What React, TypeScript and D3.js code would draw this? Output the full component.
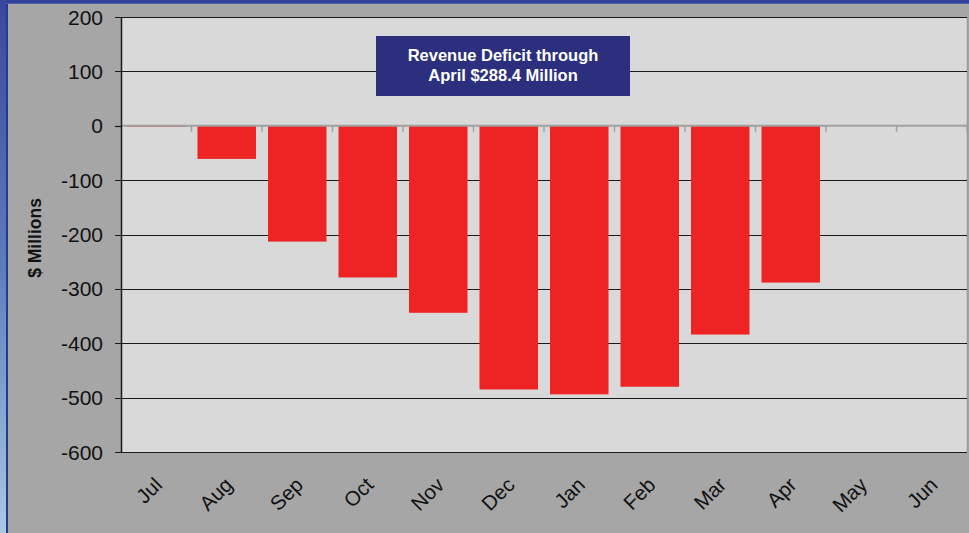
import React from "react";
import * as d3 from "d3";

const months = ["Jul", "Aug", "Sep", "Oct", "Nov", "Dec", "Jan", "Feb", "Mar", "Apr", "May", "Jun"];
const deficit = [-1, -61, -213, -279, -344, -485, -494, -480, -384, -288.4, null, null];
const yTicks = [200, 100, 0, -100, -200, -300, -400, -500, -600];
const annotationLines = ["Revenue Deficit through", "April $288.4 Million"];

const W = 969;
const H = 533;
const left = 121;
const right = 967;
const top = 17;
const bottom = 452;

export default function App() {
  const x = d3.scaleBand<string>().domain(months).range([left, right]).paddingInner(0.17).paddingOuter(0.085);
  const xc = d3.scaleBand<string>().domain(months).range([left, right]).padding(0);
  const y = d3.scaleLinear().domain([-600, 200]).range([bottom, top]);
  const y0 = y(0);

  return (
    <div style={{ position: "absolute", left: 0, top: 0, width: W, height: H }}>
      <svg width={W} height={H} style={{ display: "block" }} fontFamily="Liberation Sans, Arial, sans-serif">
        <defs>
          <linearGradient id="leftStrip" x1="0" y1="0" x2="0" y2="1">
            <stop offset="0" stopColor="#3b469c" />
            <stop offset="0.5" stopColor="#5f7cba" />
            <stop offset="1" stopColor="#a9c9e1" />
          </linearGradient>
        </defs>
        <rect x={0} y={0} width={W} height={H} fill="#a6a6a6" />
        <rect x={0} y={0} width={W} height={4} fill="#35409a" />
        <rect x={0} y={0} width={6} height={H} fill="url(#leftStrip)" />
        <rect x={6} y={3} width={2} height={H} fill="#1f3c96" />
        <rect x={6} y={3} width={W} height={1} fill="#4a66a8" />
        {/* plot area */}
        <rect x={left} y={top} width={right - left} height={bottom - top} fill="#d9d9d9" />
        <line x1={right + 0.5} x2={right + 0.5} y1={top} y2={bottom} stroke="#9a9a9a" strokeWidth={1.5} />
        {/* gridlines */}
        {yTicks.filter((t) => t !== 0).map((t) => (
          <line key={t} x1={left - 6} x2={right} y1={Math.round(y(t)) + 0.5} y2={Math.round(y(t)) + 0.5} stroke="#1a1a1a" strokeWidth={1.2} />
        ))}
        <line x1={left - 6} x2={left} y1={Math.round(y0) + 0.5} y2={Math.round(y0) + 0.5} stroke="#1a1a1a" strokeWidth={1.2} />
        {/* bars */}
        {months.map((m, i) => {
          const v = deficit[i];
          if (v === null) return null;
          const yb = y(v);
          return <rect key={m} x={x(m)} y={y0} width={x.bandwidth()} height={Math.max(1, yb - y0)} fill="#ee2424" />;
        })}
        {/* zero axis */}
        <line x1={left} x2={right} y1={y0} y2={y0} stroke="#a0a0a0" strokeWidth={2} />
        {months.map((m) => (
          <line key={m} x1={(xc(m) as number) + xc.bandwidth()} x2={(xc(m) as number) + xc.bandwidth()} y1={y0} y2={y0 + 6} stroke="#a0a0a0" strokeWidth={1.5} />
        ))}
        {/* left axis */}
        <line x1={left + 0.5} x2={left + 0.5} y1={top} y2={bottom} stroke="#1a1a1a" strokeWidth={1.5} />
        {yTicks.map((t) => (
          <text key={t} x={103} y={y(t)} dy="0.36em" textAnchor="end" fontSize={21} fill="#111">
            {t}
          </text>
        ))}
        <text transform={`translate(41,238) rotate(-90)`} textAnchor="middle" fontSize={17.5} fontWeight="bold" fill="#111">
          $ Millions
        </text>
        {months.map((m) => {
          const cx = (xc(m) as number) + xc.bandwidth() / 2;
          return (
            <text key={m} transform={`translate(${cx - 3},${476}) rotate(-45)`} textAnchor="end" dy="0.7em" fontSize={20.5} fill="#111">
              {m}
            </text>
          );
        })}
        {/* annotation */}
        <rect x={376} y={36} width={254} height={60} fill="#2c2f7d" />
        {annotationLines.map((l, i) => (
          <text key={i} x={503} y={61 + i * 20} textAnchor="middle" fontSize={16.5} fontWeight="bold" fill="#ffffff">
            {l}
          </text>
        ))}
      </svg>
    </div>
  );
}
